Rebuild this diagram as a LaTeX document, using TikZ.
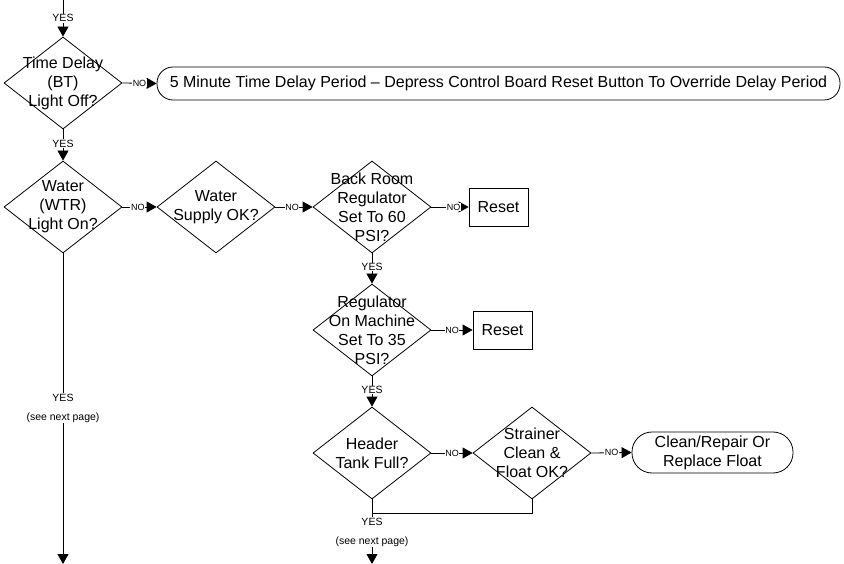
\documentclass[tikz,border=0pt]{standalone}
\usepackage{fontspec}
\setmainfont{Liberation Sans}
\usetikzlibrary{shapes.geometric,arrows.meta}
\begin{document}
\begin{tikzpicture}[x=1pt,y=-1pt,
  line width=0.8pt,
  dec/.style={draw,shape=diamond,inner sep=0pt,minimum width=118pt,minimum height=92pt},
  txt/.style={align=center,font=\fontsize{16}{19}\selectfont,inner sep=0pt},
  rbox/.style={draw,rounded corners=16pt,inner sep=0pt,align=center,font=\fontsize{16}{19}\selectfont},
  sbox/.style={draw,inner sep=0pt,minimum width=59pt,minimum height=38pt,font=\fontsize{16}{19}\selectfont},
  arr/.style={-{Triangle[length=10pt,width=11pt]}},
  nolab/.style={fill=white,inner sep=0.6pt,font=\fontsize{9}{10}\selectfont},
  yeslab/.style={fill=white,inner sep=0.6pt,align=center,font=\fontsize{10.5}{19}\selectfont}]
\useasboundingbox (0,0) rectangle (844,564);

% decisions
\node[dec] (d1) at (63,83) {};
\node[txt] at (63,83) {Time Delay\\(BT)\\Light Off?};
\node[dec] (d2) at (63,207) {};
\node[txt] at (63,207) {Water\\(WTR)\\Light On?};
\node[dec] (d3) at (216,207) {};
\node[txt] at (216,207) {Water\\Supply OK?};
\node[dec] (d4) at (372,207) {};
\node[txt] at (372,207) {Back Room\\Regulator\\Set To 60\\PSI?};
\node[dec] (d5) at (372,330) {};
\node[txt] at (372,330) {Regulator\\On Machine\\Set To 35\\PSI?};
\node[dec] (d6) at (372,453) {};
\node[txt] at (372,453) {Header\\Tank Full?};
\node[dec] (d7) at (532,453) {};
\node[txt] at (532,453) {Strainer\\Clean \&\\Float OK?};

% terminals / actions
\node[rbox,minimum width=683pt,minimum height=33pt] (r1) at (498.5,83.5) {5 Minute Time Delay Period -- Depress Control Board Reset Button To Override Delay Period};
\node[sbox] (s1) at (498.5,207) {Reset};
\node[sbox] (s2) at (502.5,330) {Reset};
\node[rbox,minimum width=161pt,minimum height=41pt,rounded corners=20pt] (r2) at (712.5,452.5) {Clean/Repair Or\\Replace Float};

% coordinates
\coordinate (top) at (63,0);
\coordinate (j6) at (372,513);
\coordinate (j7) at (532,513);
\node[yeslab] (yl) at (63,408) {YES\\(see next page)};
\node[yeslab] (yr) at (372,532) {YES\\(see next page)};
\coordinate (endl) at (63,564);
\coordinate (endr) at (372,564);

% YES connectors
\draw[arr] (top) -- node[yeslab,pos=0.5]{YES} (d1.north);
\draw[arr] (d1.south) -- node[yeslab,pos=0.45]{YES} (d2.north);
\draw[arr] (d4.south) -- node[yeslab,pos=0.45]{YES} (d5.north);
\draw[arr] (d5.south) -- node[yeslab,pos=0.45]{YES} (d6.north);
\draw (d2.south) -- (yl.north);
\draw[arr] (yl.south) -- (endl);
\draw (d6.south) -- (j6) -- (j7) -- (d7.south);
\draw (j6) -- (yr.north);
\draw[arr] (yr.south) -- (endr);

% NO connectors
\draw[arr] (d1.east) -- node[nolab,pos=0.5]{NO} (r1.west);
\draw[arr] (d2.east) -- node[nolab,pos=0.45]{NO} (d3.west);
\draw[arr] (d3.east) -- node[nolab,pos=0.45]{NO} (d4.west);
\draw[arr] (d4.east) -- node[nolab,pos=0.6]{NO} (s1.west);
\draw[arr] (d5.east) -- node[nolab,pos=0.5]{NO} (s2.west);
\draw[arr] (d6.east) -- node[nolab,pos=0.5]{NO} (d7.west);
\draw[arr] (d7.east) -- node[nolab,pos=0.5]{NO} (r2.west);
\end{tikzpicture}
\end{document}
